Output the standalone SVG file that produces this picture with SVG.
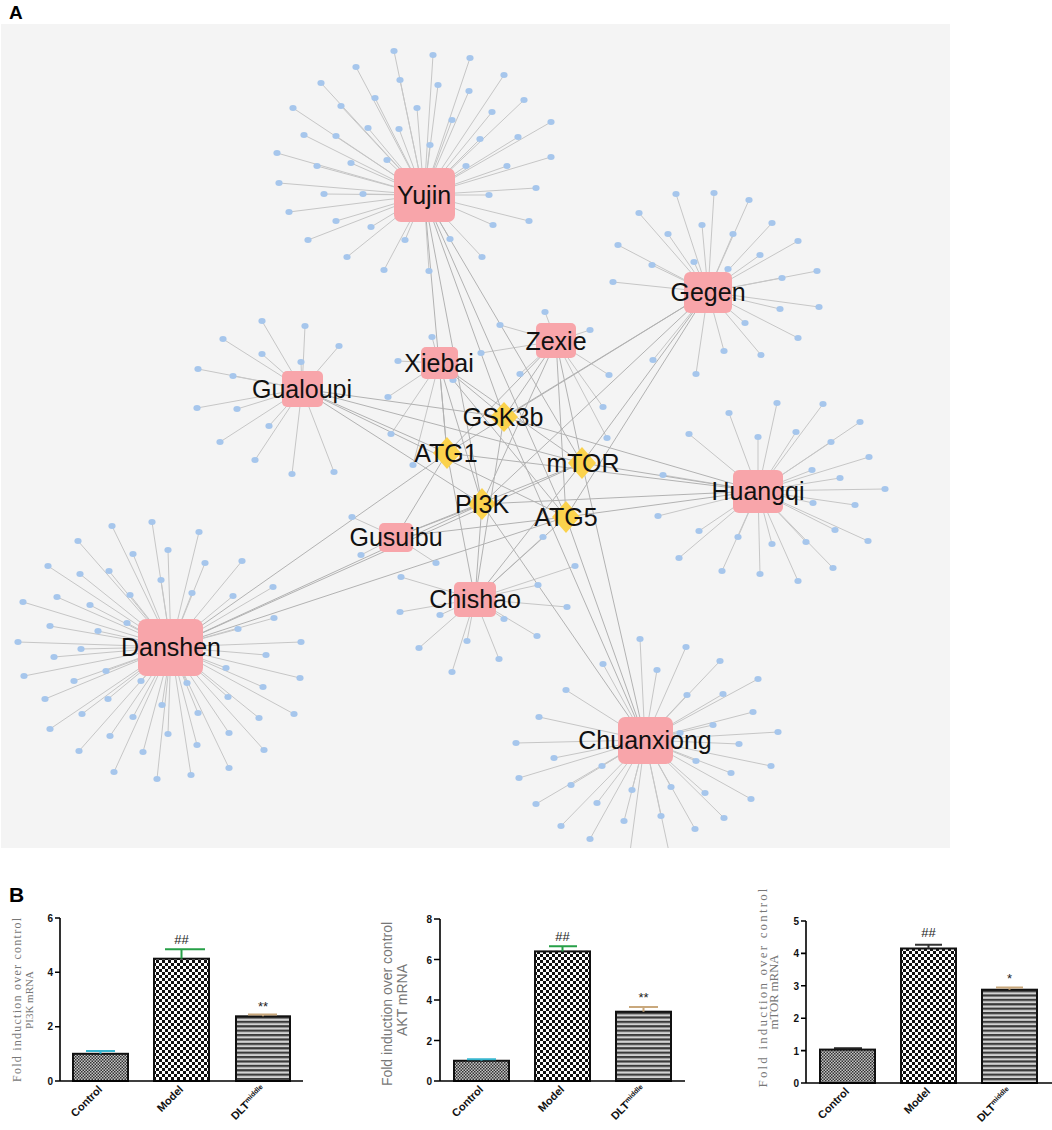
<svg xmlns="http://www.w3.org/2000/svg" width="1052" height="1130" viewBox="0 0 1052 1130">
<defs>
<style>
.bg{fill:#f4f4f4}
.e line{stroke:#c6c6c6;stroke-width:1}
.t line{stroke:#b2b2b2;stroke-width:1}
.c ellipse{fill:#a6c6ec}
.h rect{fill:#f8a5aa}
.g polygon{fill:#fbd24c}
.lbl{font-family:"Liberation Sans",Arial,sans-serif;font-size:25px;fill:#111;text-anchor:middle}
.pl{font-family:"Liberation Sans",Arial,sans-serif;font-weight:bold;fill:#000}
.ax{stroke:#000;stroke-width:1.6;fill:none}
.tk{font-family:"Liberation Sans",Arial,sans-serif;font-weight:bold;font-size:10px;fill:#111;text-anchor:end}
.xl{font-family:"Liberation Sans",Arial,sans-serif;font-weight:bold;font-size:11px;fill:#111;text-anchor:end}
.yls{font-family:"Liberation Serif","Times New Roman",serif;fill:#777;text-anchor:middle}
.yla{font-family:"Liberation Sans",Arial,sans-serif;font-size:14px;fill:#777;text-anchor:middle}
.bar{stroke:#111;stroke-width:2}
.an{font-family:"Liberation Sans",Arial,sans-serif;font-size:13px;fill:#222;text-anchor:middle}
</style>
<pattern id="pc" width="3" height="3" patternUnits="userSpaceOnUse"><rect width="3" height="3" fill="#c4c4c4"/><rect width="1.5" height="1.5" fill="#333"/><rect x="1.5" y="1.5" width="1.5" height="1.5" fill="#333"/></pattern>
<pattern id="pm" width="6" height="6" patternUnits="userSpaceOnUse"><rect width="6" height="6" fill="#fff"/><rect width="3" height="3" fill="#111"/><rect x="3" y="3" width="3" height="3" fill="#111"/></pattern>
<pattern id="pd" width="4" height="4.4" patternUnits="userSpaceOnUse"><rect width="4" height="4.4" fill="#d2d2d2"/><rect width="4" height="2.2" fill="#3a3a3a"/></pattern>
<clipPath id="clipA"><rect x="1" y="24" width="949" height="824"/></clipPath>
</defs>
<rect width="1052" height="1130" fill="#fff"/>
<text class="pl" x="9" y="19" font-size="19">A</text>
<rect class="bg" x="1" y="24" width="949" height="824"/>
<g clip-path="url(#clipA)">
<g id="connectors">
<g class="e">
<line x1="424" y1="195" x2="394" y2="51"/><line x1="424" y1="195" x2="433" y2="55"/><line x1="424" y1="195" x2="470" y2="58"/><line x1="424" y1="195" x2="356" y2="67"/><line x1="424" y1="195" x2="400" y2="80"/><line x1="424" y1="195" x2="438" y2="85"/><line x1="424" y1="195" x2="504" y2="75"/><line x1="424" y1="195" x2="321" y2="83"/><line x1="424" y1="195" x2="469" y2="91"/><line x1="424" y1="195" x2="375" y2="98"/><line x1="424" y1="195" x2="524" y2="100"/><line x1="424" y1="195" x2="293" y2="108"/><line x1="424" y1="195" x2="341" y2="106"/><line x1="424" y1="195" x2="417" y2="108"/><line x1="424" y1="195" x2="492" y2="112"/><line x1="424" y1="195" x2="452" y2="120"/><line x1="424" y1="195" x2="551" y2="122"/><line x1="424" y1="195" x2="304" y2="135"/><line x1="424" y1="195" x2="336" y2="136"/><line x1="424" y1="195" x2="368" y2="128"/><line x1="424" y1="195" x2="399" y2="129"/><line x1="424" y1="195" x2="480" y2="139"/><line x1="424" y1="195" x2="518" y2="137"/><line x1="424" y1="195" x2="430" y2="145"/><line x1="424" y1="195" x2="277" y2="153"/><line x1="424" y1="195" x2="317" y2="166"/><line x1="424" y1="195" x2="351" y2="163"/><line x1="424" y1="195" x2="387" y2="160"/><line x1="424" y1="195" x2="466" y2="166"/><line x1="424" y1="195" x2="507" y2="166"/><line x1="424" y1="195" x2="551" y2="157"/><line x1="424" y1="195" x2="279" y2="183"/><line x1="424" y1="195" x2="324" y2="194"/><line x1="424" y1="195" x2="363" y2="194"/><line x1="424" y1="195" x2="489" y2="195"/><line x1="424" y1="195" x2="536" y2="188"/><line x1="424" y1="195" x2="289" y2="212"/><line x1="424" y1="195" x2="336" y2="221"/><line x1="424" y1="195" x2="371" y2="227"/><line x1="424" y1="195" x2="493" y2="225"/><line x1="424" y1="195" x2="529" y2="221"/><line x1="424" y1="195" x2="308" y2="240"/><line x1="424" y1="195" x2="405" y2="240"/><line x1="424" y1="195" x2="450" y2="239"/><line x1="424" y1="195" x2="347" y2="257"/><line x1="424" y1="195" x2="482" y2="257"/><line x1="424" y1="195" x2="384" y2="270"/><line x1="424" y1="195" x2="429" y2="271"/>
<line x1="708" y1="292" x2="676" y2="194"/><line x1="708" y1="292" x2="714" y2="193"/><line x1="708" y1="292" x2="749" y2="200"/><line x1="708" y1="292" x2="639" y2="213"/><line x1="708" y1="292" x2="772" y2="223"/><line x1="708" y1="292" x2="702" y2="225"/><line x1="708" y1="292" x2="668" y2="234"/><line x1="708" y1="292" x2="733" y2="234"/><line x1="708" y1="292" x2="618" y2="245"/><line x1="708" y1="292" x2="798" y2="241"/><line x1="708" y1="292" x2="760" y2="255"/><line x1="708" y1="292" x2="694" y2="262"/><line x1="708" y1="292" x2="652" y2="265"/><line x1="708" y1="292" x2="728" y2="269"/><line x1="708" y1="292" x2="817" y2="271"/><line x1="708" y1="292" x2="782" y2="278"/><line x1="708" y1="292" x2="613" y2="282"/><line x1="708" y1="292" x2="819" y2="307"/><line x1="708" y1="292" x2="780" y2="309"/><line x1="708" y1="292" x2="745" y2="323"/><line x1="708" y1="292" x2="798" y2="338"/><line x1="708" y1="292" x2="724" y2="351"/><line x1="708" y1="292" x2="761" y2="355"/><line x1="708" y1="292" x2="696" y2="374"/><line x1="708" y1="292" x2="653" y2="360"/>
<line x1="302" y1="389" x2="223" y2="339"/><line x1="302" y1="389" x2="262" y2="354"/><line x1="302" y1="389" x2="301" y2="362"/><line x1="302" y1="389" x2="339" y2="346"/><line x1="302" y1="389" x2="198" y2="369"/><line x1="302" y1="389" x2="233" y2="376"/><line x1="302" y1="389" x2="197" y2="408"/><line x1="302" y1="389" x2="237" y2="409"/><line x1="302" y1="389" x2="269" y2="426"/><line x1="302" y1="389" x2="220" y2="442"/><line x1="302" y1="389" x2="255" y2="460"/><line x1="302" y1="389" x2="292" y2="474"/><line x1="302" y1="389" x2="334" y2="472"/><line x1="302" y1="389" x2="262" y2="321"/><line x1="302" y1="389" x2="305" y2="326"/>
<line x1="439" y1="363" x2="432" y2="337"/><line x1="439" y1="363" x2="398" y2="361"/><line x1="439" y1="363" x2="388" y2="397"/><line x1="439" y1="363" x2="391" y2="434"/><line x1="439" y1="363" x2="413" y2="465"/><line x1="439" y1="363" x2="453" y2="380"/>
<line x1="556" y1="341" x2="545" y2="312"/><line x1="556" y1="341" x2="500" y2="325"/><line x1="556" y1="341" x2="590" y2="330"/><line x1="556" y1="341" x2="481" y2="353"/><line x1="556" y1="341" x2="520" y2="374"/><line x1="556" y1="341" x2="609" y2="375"/><line x1="556" y1="341" x2="603" y2="407"/><line x1="556" y1="341" x2="607" y2="438"/>
<line x1="396" y1="537" x2="352" y2="517"/><line x1="396" y1="537" x2="361" y2="555"/><line x1="396" y1="537" x2="436" y2="563"/>
<line x1="475" y1="599" x2="401" y2="577"/><line x1="475" y1="599" x2="400" y2="612"/><line x1="475" y1="599" x2="440" y2="615"/><line x1="475" y1="599" x2="538" y2="585"/><line x1="475" y1="599" x2="575" y2="566"/><line x1="475" y1="599" x2="567" y2="607"/><line x1="475" y1="599" x2="504" y2="619"/><line x1="475" y1="599" x2="537" y2="636"/><line x1="475" y1="599" x2="467" y2="641"/><line x1="475" y1="599" x2="499" y2="659"/><line x1="475" y1="599" x2="452" y2="672"/><line x1="475" y1="599" x2="419" y2="648"/><line x1="475" y1="599" x2="543" y2="537"/>
<line x1="758" y1="491" x2="729" y2="413"/><line x1="758" y1="491" x2="777" y2="403"/><line x1="758" y1="491" x2="823" y2="404"/><line x1="758" y1="491" x2="689" y2="434"/><line x1="758" y1="491" x2="758" y2="437"/><line x1="758" y1="491" x2="796" y2="432"/><line x1="758" y1="491" x2="860" y2="422"/><line x1="758" y1="491" x2="831" y2="442"/><line x1="758" y1="491" x2="869" y2="457"/><line x1="758" y1="491" x2="812" y2="470"/><line x1="758" y1="491" x2="840" y2="478"/><line x1="758" y1="491" x2="663" y2="475"/><line x1="758" y1="491" x2="885" y2="489"/><line x1="758" y1="491" x2="813" y2="503"/><line x1="758" y1="491" x2="855" y2="505"/><line x1="758" y1="491" x2="658" y2="516"/><line x1="758" y1="491" x2="699" y2="531"/><line x1="758" y1="491" x2="738" y2="537"/><line x1="758" y1="491" x2="835" y2="530"/><line x1="758" y1="491" x2="868" y2="541"/><line x1="758" y1="491" x2="772" y2="544"/><line x1="758" y1="491" x2="806" y2="542"/><line x1="758" y1="491" x2="679" y2="558"/><line x1="758" y1="491" x2="833" y2="568"/><line x1="758" y1="491" x2="722" y2="571"/><line x1="758" y1="491" x2="760" y2="574"/><line x1="758" y1="491" x2="798" y2="581"/>
<line x1="171" y1="647" x2="152" y2="522"/><line x1="171" y1="647" x2="112" y2="526"/><line x1="171" y1="647" x2="199" y2="532"/><line x1="171" y1="647" x2="78" y2="541"/><line x1="171" y1="647" x2="168" y2="550"/><line x1="171" y1="647" x2="133" y2="554"/><line x1="171" y1="647" x2="48" y2="566"/><line x1="171" y1="647" x2="205" y2="563"/><line x1="171" y1="647" x2="242" y2="561"/><line x1="171" y1="647" x2="80" y2="574"/><line x1="171" y1="647" x2="109" y2="571"/><line x1="171" y1="647" x2="161" y2="580"/><line x1="171" y1="647" x2="273" y2="587"/><line x1="171" y1="647" x2="23" y2="602"/><line x1="171" y1="647" x2="57" y2="597"/><line x1="171" y1="647" x2="90" y2="605"/><line x1="171" y1="647" x2="130" y2="595"/><line x1="171" y1="647" x2="192" y2="593"/><line x1="171" y1="647" x2="233" y2="596"/><line x1="171" y1="647" x2="50" y2="626"/><line x1="171" y1="647" x2="127" y2="623"/><line x1="171" y1="647" x2="274" y2="618"/><line x1="171" y1="647" x2="98" y2="631"/><line x1="171" y1="647" x2="238" y2="629"/><line x1="171" y1="647" x2="18" y2="642"/><line x1="171" y1="647" x2="81" y2="649"/><line x1="171" y1="647" x2="54" y2="657"/><line x1="171" y1="647" x2="301" y2="642"/><line x1="171" y1="647" x2="266" y2="655"/><line x1="171" y1="647" x2="24" y2="676"/><line x1="171" y1="647" x2="74" y2="681"/><line x1="171" y1="647" x2="106" y2="671"/><line x1="171" y1="647" x2="226" y2="668"/><line x1="171" y1="647" x2="300" y2="678"/><line x1="171" y1="647" x2="141" y2="681"/><line x1="171" y1="647" x2="187" y2="683"/><line x1="171" y1="647" x2="263" y2="687"/><line x1="171" y1="647" x2="45" y2="699"/><line x1="171" y1="647" x2="108" y2="699"/><line x1="171" y1="647" x2="228" y2="697"/><line x1="171" y1="647" x2="162" y2="705"/><line x1="171" y1="647" x2="198" y2="713"/><line x1="171" y1="647" x2="294" y2="714"/><line x1="171" y1="647" x2="82" y2="714"/><line x1="171" y1="647" x2="133" y2="717"/><line x1="171" y1="647" x2="259" y2="718"/><line x1="171" y1="647" x2="50" y2="729"/><line x1="171" y1="647" x2="110" y2="736"/><line x1="171" y1="647" x2="168" y2="734"/><line x1="171" y1="647" x2="229" y2="733"/><line x1="171" y1="647" x2="197" y2="745"/><line x1="171" y1="647" x2="79" y2="751"/><line x1="171" y1="647" x2="143" y2="752"/><line x1="171" y1="647" x2="264" y2="750"/><line x1="171" y1="647" x2="114" y2="772"/><line x1="171" y1="647" x2="157" y2="779"/><line x1="171" y1="647" x2="191" y2="775"/><line x1="171" y1="647" x2="229" y2="768"/>
<line x1="645" y1="740" x2="640" y2="639"/><line x1="645" y1="740" x2="686" y2="647"/><line x1="645" y1="740" x2="603" y2="664"/><line x1="645" y1="740" x2="720" y2="661"/><line x1="645" y1="740" x2="657" y2="670"/><line x1="645" y1="740" x2="758" y2="679"/><line x1="645" y1="740" x2="566" y2="690"/><line x1="645" y1="740" x2="687" y2="695"/><line x1="645" y1="740" x2="723" y2="694"/><line x1="645" y1="740" x2="753" y2="712"/><line x1="645" y1="740" x2="539" y2="717"/><line x1="645" y1="740" x2="713" y2="725"/><line x1="645" y1="740" x2="680" y2="733"/><line x1="645" y1="740" x2="778" y2="732"/><line x1="645" y1="740" x2="516" y2="743"/><line x1="645" y1="740" x2="739" y2="744"/><line x1="645" y1="740" x2="554" y2="758"/><line x1="645" y1="740" x2="602" y2="766"/><line x1="645" y1="740" x2="648" y2="761"/><line x1="645" y1="740" x2="696" y2="761"/><line x1="645" y1="740" x2="771" y2="766"/><line x1="645" y1="740" x2="731" y2="773"/><line x1="645" y1="740" x2="519" y2="778"/><line x1="645" y1="740" x2="571" y2="785"/><line x1="645" y1="740" x2="632" y2="790"/><line x1="645" y1="740" x2="671" y2="787"/><line x1="645" y1="740" x2="705" y2="793"/><line x1="645" y1="740" x2="751" y2="799"/><line x1="645" y1="740" x2="536" y2="804"/><line x1="645" y1="740" x2="597" y2="803"/><line x1="645" y1="740" x2="661" y2="816"/><line x1="645" y1="740" x2="724" y2="818"/><line x1="645" y1="740" x2="561" y2="826"/><line x1="645" y1="740" x2="624" y2="821"/><line x1="645" y1="740" x2="695" y2="829"/><line x1="645" y1="740" x2="590" y2="839"/><line x1="645" y1="740" x2="630" y2="852"/><line x1="645" y1="740" x2="669" y2="852"/>
</g>
<g class="t">
<line x1="424" y1="195" x2="504" y2="417"/><line x1="424" y1="195" x2="447" y2="453"/><line x1="424" y1="195" x2="582" y2="463"/><line x1="424" y1="195" x2="482" y2="504"/><line x1="424" y1="195" x2="566" y2="517"/>
<line x1="708" y1="292" x2="504" y2="417"/><line x1="708" y1="292" x2="447" y2="453"/><line x1="708" y1="292" x2="582" y2="463"/><line x1="708" y1="292" x2="482" y2="504"/><line x1="708" y1="292" x2="566" y2="517"/>
<line x1="302" y1="389" x2="504" y2="417"/><line x1="302" y1="389" x2="447" y2="453"/><line x1="302" y1="389" x2="582" y2="463"/><line x1="302" y1="389" x2="482" y2="504"/><line x1="302" y1="389" x2="566" y2="517"/>
<line x1="439" y1="363" x2="504" y2="417"/><line x1="439" y1="363" x2="447" y2="453"/><line x1="439" y1="363" x2="582" y2="463"/><line x1="439" y1="363" x2="482" y2="504"/><line x1="439" y1="363" x2="566" y2="517"/>
<line x1="556" y1="341" x2="504" y2="417"/><line x1="556" y1="341" x2="447" y2="453"/><line x1="556" y1="341" x2="582" y2="463"/><line x1="556" y1="341" x2="482" y2="504"/><line x1="556" y1="341" x2="566" y2="517"/>
<line x1="396" y1="537" x2="447" y2="453"/><line x1="396" y1="537" x2="582" y2="463"/><line x1="396" y1="537" x2="482" y2="504"/><line x1="396" y1="537" x2="566" y2="517"/>
<line x1="475" y1="599" x2="504" y2="417"/><line x1="475" y1="599" x2="447" y2="453"/><line x1="475" y1="599" x2="582" y2="463"/><line x1="475" y1="599" x2="482" y2="504"/><line x1="475" y1="599" x2="566" y2="517"/>
<line x1="758" y1="491" x2="504" y2="417"/><line x1="758" y1="491" x2="447" y2="453"/><line x1="758" y1="491" x2="582" y2="463"/><line x1="758" y1="491" x2="482" y2="504"/><line x1="758" y1="491" x2="566" y2="517"/>
<line x1="171" y1="647" x2="447" y2="453"/><line x1="171" y1="647" x2="582" y2="463"/><line x1="171" y1="647" x2="482" y2="504"/><line x1="171" y1="647" x2="566" y2="517"/>
<line x1="645" y1="740" x2="504" y2="417"/><line x1="645" y1="740" x2="582" y2="463"/><line x1="645" y1="740" x2="482" y2="504" stroke="#999"/><line x1="645" y1="740" x2="566" y2="517"/>
</g>
</g>
<g id="compounds" class="c">
<g id="cmp-yujin"><ellipse cx="394" cy="51" rx="3.6" ry="3"/><ellipse cx="433" cy="55" rx="3.6" ry="3"/><ellipse cx="470" cy="58" rx="3.6" ry="3"/><ellipse cx="356" cy="67" rx="3.6" ry="3"/><ellipse cx="400" cy="80" rx="3.6" ry="3"/><ellipse cx="438" cy="85" rx="3.6" ry="3"/><ellipse cx="504" cy="75" rx="3.6" ry="3"/><ellipse cx="321" cy="83" rx="3.6" ry="3"/><ellipse cx="469" cy="91" rx="3.6" ry="3"/><ellipse cx="375" cy="98" rx="3.6" ry="3"/><ellipse cx="524" cy="100" rx="3.6" ry="3"/><ellipse cx="293" cy="108" rx="3.6" ry="3"/><ellipse cx="341" cy="106" rx="3.6" ry="3"/><ellipse cx="417" cy="108" rx="3.6" ry="3"/><ellipse cx="492" cy="112" rx="3.6" ry="3"/><ellipse cx="452" cy="120" rx="3.6" ry="3"/><ellipse cx="551" cy="122" rx="3.6" ry="3"/><ellipse cx="304" cy="135" rx="3.6" ry="3"/><ellipse cx="336" cy="136" rx="3.6" ry="3"/><ellipse cx="368" cy="128" rx="3.6" ry="3"/><ellipse cx="399" cy="129" rx="3.6" ry="3"/><ellipse cx="480" cy="139" rx="3.6" ry="3"/><ellipse cx="518" cy="137" rx="3.6" ry="3"/><ellipse cx="430" cy="145" rx="3.6" ry="3"/><ellipse cx="277" cy="153" rx="3.6" ry="3"/><ellipse cx="317" cy="166" rx="3.6" ry="3"/><ellipse cx="351" cy="163" rx="3.6" ry="3"/><ellipse cx="387" cy="160" rx="3.6" ry="3"/><ellipse cx="466" cy="166" rx="3.6" ry="3"/><ellipse cx="507" cy="166" rx="3.6" ry="3"/><ellipse cx="551" cy="157" rx="3.6" ry="3"/><ellipse cx="279" cy="183" rx="3.6" ry="3"/><ellipse cx="324" cy="194" rx="3.6" ry="3"/><ellipse cx="363" cy="194" rx="3.6" ry="3"/><ellipse cx="489" cy="195" rx="3.6" ry="3"/><ellipse cx="536" cy="188" rx="3.6" ry="3"/><ellipse cx="289" cy="212" rx="3.6" ry="3"/><ellipse cx="336" cy="221" rx="3.6" ry="3"/><ellipse cx="371" cy="227" rx="3.6" ry="3"/><ellipse cx="493" cy="225" rx="3.6" ry="3"/><ellipse cx="529" cy="221" rx="3.6" ry="3"/><ellipse cx="308" cy="240" rx="3.6" ry="3"/><ellipse cx="405" cy="240" rx="3.6" ry="3"/><ellipse cx="450" cy="239" rx="3.6" ry="3"/><ellipse cx="347" cy="257" rx="3.6" ry="3"/><ellipse cx="482" cy="257" rx="3.6" ry="3"/><ellipse cx="384" cy="270" rx="3.6" ry="3"/><ellipse cx="429" cy="271" rx="3.6" ry="3"/></g>
<g id="cmp-gegen"><ellipse cx="676" cy="194" rx="3.6" ry="3"/><ellipse cx="714" cy="193" rx="3.6" ry="3"/><ellipse cx="749" cy="200" rx="3.6" ry="3"/><ellipse cx="639" cy="213" rx="3.6" ry="3"/><ellipse cx="772" cy="223" rx="3.6" ry="3"/><ellipse cx="702" cy="225" rx="3.6" ry="3"/><ellipse cx="668" cy="234" rx="3.6" ry="3"/><ellipse cx="733" cy="234" rx="3.6" ry="3"/><ellipse cx="618" cy="245" rx="3.6" ry="3"/><ellipse cx="798" cy="241" rx="3.6" ry="3"/><ellipse cx="760" cy="255" rx="3.6" ry="3"/><ellipse cx="694" cy="262" rx="3.6" ry="3"/><ellipse cx="652" cy="265" rx="3.6" ry="3"/><ellipse cx="728" cy="269" rx="3.6" ry="3"/><ellipse cx="817" cy="271" rx="3.6" ry="3"/><ellipse cx="782" cy="278" rx="3.6" ry="3"/><ellipse cx="613" cy="282" rx="3.6" ry="3"/><ellipse cx="819" cy="307" rx="3.6" ry="3"/><ellipse cx="780" cy="309" rx="3.6" ry="3"/><ellipse cx="745" cy="323" rx="3.6" ry="3"/><ellipse cx="798" cy="338" rx="3.6" ry="3"/><ellipse cx="724" cy="351" rx="3.6" ry="3"/><ellipse cx="761" cy="355" rx="3.6" ry="3"/><ellipse cx="696" cy="374" rx="3.6" ry="3"/><ellipse cx="653" cy="360" rx="3.6" ry="3"/></g>
<g id="cmp-gualoupi"><ellipse cx="223" cy="339" rx="3.6" ry="3"/><ellipse cx="262" cy="354" rx="3.6" ry="3"/><ellipse cx="301" cy="362" rx="3.6" ry="3"/><ellipse cx="339" cy="346" rx="3.6" ry="3"/><ellipse cx="198" cy="369" rx="3.6" ry="3"/><ellipse cx="233" cy="376" rx="3.6" ry="3"/><ellipse cx="197" cy="408" rx="3.6" ry="3"/><ellipse cx="237" cy="409" rx="3.6" ry="3"/><ellipse cx="269" cy="426" rx="3.6" ry="3"/><ellipse cx="220" cy="442" rx="3.6" ry="3"/><ellipse cx="255" cy="460" rx="3.6" ry="3"/><ellipse cx="292" cy="474" rx="3.6" ry="3"/><ellipse cx="334" cy="472" rx="3.6" ry="3"/><ellipse cx="262" cy="321" rx="3.6" ry="3"/><ellipse cx="305" cy="326" rx="3.6" ry="3"/></g>
<g id="cmp-xiebai"><ellipse cx="432" cy="337" rx="3.6" ry="3"/><ellipse cx="398" cy="361" rx="3.6" ry="3"/><ellipse cx="388" cy="397" rx="3.6" ry="3"/><ellipse cx="391" cy="434" rx="3.6" ry="3"/><ellipse cx="413" cy="465" rx="3.6" ry="3"/><ellipse cx="453" cy="380" rx="3.6" ry="3"/></g>
<g id="cmp-zexie"><ellipse cx="545" cy="312" rx="3.6" ry="3"/><ellipse cx="500" cy="325" rx="3.6" ry="3"/><ellipse cx="590" cy="330" rx="3.6" ry="3"/><ellipse cx="481" cy="353" rx="3.6" ry="3"/><ellipse cx="520" cy="374" rx="3.6" ry="3"/><ellipse cx="609" cy="375" rx="3.6" ry="3"/><ellipse cx="603" cy="407" rx="3.6" ry="3"/><ellipse cx="607" cy="438" rx="3.6" ry="3"/></g>
<g id="cmp-gusuibu"><ellipse cx="352" cy="517" rx="3.6" ry="3"/><ellipse cx="361" cy="555" rx="3.6" ry="3"/><ellipse cx="436" cy="563" rx="3.6" ry="3"/></g>
<g id="cmp-chishao"><ellipse cx="401" cy="577" rx="3.6" ry="3"/><ellipse cx="400" cy="612" rx="3.6" ry="3"/><ellipse cx="440" cy="615" rx="3.6" ry="3"/><ellipse cx="538" cy="585" rx="3.6" ry="3"/><ellipse cx="575" cy="566" rx="3.6" ry="3"/><ellipse cx="567" cy="607" rx="3.6" ry="3"/><ellipse cx="504" cy="619" rx="3.6" ry="3"/><ellipse cx="537" cy="636" rx="3.6" ry="3"/><ellipse cx="467" cy="641" rx="3.6" ry="3"/><ellipse cx="499" cy="659" rx="3.6" ry="3"/><ellipse cx="452" cy="672" rx="3.6" ry="3"/><ellipse cx="419" cy="648" rx="3.6" ry="3"/><ellipse cx="543" cy="537" rx="3.6" ry="3"/></g>
<g id="cmp-huangqi"><ellipse cx="729" cy="413" rx="3.6" ry="3"/><ellipse cx="777" cy="403" rx="3.6" ry="3"/><ellipse cx="823" cy="404" rx="3.6" ry="3"/><ellipse cx="689" cy="434" rx="3.6" ry="3"/><ellipse cx="758" cy="437" rx="3.6" ry="3"/><ellipse cx="796" cy="432" rx="3.6" ry="3"/><ellipse cx="860" cy="422" rx="3.6" ry="3"/><ellipse cx="831" cy="442" rx="3.6" ry="3"/><ellipse cx="869" cy="457" rx="3.6" ry="3"/><ellipse cx="812" cy="470" rx="3.6" ry="3"/><ellipse cx="840" cy="478" rx="3.6" ry="3"/><ellipse cx="663" cy="475" rx="3.6" ry="3"/><ellipse cx="885" cy="489" rx="3.6" ry="3"/><ellipse cx="813" cy="503" rx="3.6" ry="3"/><ellipse cx="855" cy="505" rx="3.6" ry="3"/><ellipse cx="658" cy="516" rx="3.6" ry="3"/><ellipse cx="699" cy="531" rx="3.6" ry="3"/><ellipse cx="738" cy="537" rx="3.6" ry="3"/><ellipse cx="835" cy="530" rx="3.6" ry="3"/><ellipse cx="868" cy="541" rx="3.6" ry="3"/><ellipse cx="772" cy="544" rx="3.6" ry="3"/><ellipse cx="806" cy="542" rx="3.6" ry="3"/><ellipse cx="679" cy="558" rx="3.6" ry="3"/><ellipse cx="833" cy="568" rx="3.6" ry="3"/><ellipse cx="722" cy="571" rx="3.6" ry="3"/><ellipse cx="760" cy="574" rx="3.6" ry="3"/><ellipse cx="798" cy="581" rx="3.6" ry="3"/></g>
<g id="cmp-danshen"><ellipse cx="152" cy="522" rx="3.6" ry="3"/><ellipse cx="112" cy="526" rx="3.6" ry="3"/><ellipse cx="199" cy="532" rx="3.6" ry="3"/><ellipse cx="78" cy="541" rx="3.6" ry="3"/><ellipse cx="168" cy="550" rx="3.6" ry="3"/><ellipse cx="133" cy="554" rx="3.6" ry="3"/><ellipse cx="48" cy="566" rx="3.6" ry="3"/><ellipse cx="205" cy="563" rx="3.6" ry="3"/><ellipse cx="242" cy="561" rx="3.6" ry="3"/><ellipse cx="80" cy="574" rx="3.6" ry="3"/><ellipse cx="109" cy="571" rx="3.6" ry="3"/><ellipse cx="161" cy="580" rx="3.6" ry="3"/><ellipse cx="273" cy="587" rx="3.6" ry="3"/><ellipse cx="23" cy="602" rx="3.6" ry="3"/><ellipse cx="57" cy="597" rx="3.6" ry="3"/><ellipse cx="90" cy="605" rx="3.6" ry="3"/><ellipse cx="130" cy="595" rx="3.6" ry="3"/><ellipse cx="192" cy="593" rx="3.6" ry="3"/><ellipse cx="233" cy="596" rx="3.6" ry="3"/><ellipse cx="50" cy="626" rx="3.6" ry="3"/><ellipse cx="127" cy="623" rx="3.6" ry="3"/><ellipse cx="274" cy="618" rx="3.6" ry="3"/><ellipse cx="98" cy="631" rx="3.6" ry="3"/><ellipse cx="238" cy="629" rx="3.6" ry="3"/><ellipse cx="18" cy="642" rx="3.6" ry="3"/><ellipse cx="81" cy="649" rx="3.6" ry="3"/><ellipse cx="54" cy="657" rx="3.6" ry="3"/><ellipse cx="301" cy="642" rx="3.6" ry="3"/><ellipse cx="266" cy="655" rx="3.6" ry="3"/><ellipse cx="24" cy="676" rx="3.6" ry="3"/><ellipse cx="74" cy="681" rx="3.6" ry="3"/><ellipse cx="106" cy="671" rx="3.6" ry="3"/><ellipse cx="226" cy="668" rx="3.6" ry="3"/><ellipse cx="300" cy="678" rx="3.6" ry="3"/><ellipse cx="141" cy="681" rx="3.6" ry="3"/><ellipse cx="187" cy="683" rx="3.6" ry="3"/><ellipse cx="263" cy="687" rx="3.6" ry="3"/><ellipse cx="45" cy="699" rx="3.6" ry="3"/><ellipse cx="108" cy="699" rx="3.6" ry="3"/><ellipse cx="228" cy="697" rx="3.6" ry="3"/><ellipse cx="162" cy="705" rx="3.6" ry="3"/><ellipse cx="198" cy="713" rx="3.6" ry="3"/><ellipse cx="294" cy="714" rx="3.6" ry="3"/><ellipse cx="82" cy="714" rx="3.6" ry="3"/><ellipse cx="133" cy="717" rx="3.6" ry="3"/><ellipse cx="259" cy="718" rx="3.6" ry="3"/><ellipse cx="50" cy="729" rx="3.6" ry="3"/><ellipse cx="110" cy="736" rx="3.6" ry="3"/><ellipse cx="168" cy="734" rx="3.6" ry="3"/><ellipse cx="229" cy="733" rx="3.6" ry="3"/><ellipse cx="197" cy="745" rx="3.6" ry="3"/><ellipse cx="79" cy="751" rx="3.6" ry="3"/><ellipse cx="143" cy="752" rx="3.6" ry="3"/><ellipse cx="264" cy="750" rx="3.6" ry="3"/><ellipse cx="114" cy="772" rx="3.6" ry="3"/><ellipse cx="157" cy="779" rx="3.6" ry="3"/><ellipse cx="191" cy="775" rx="3.6" ry="3"/><ellipse cx="229" cy="768" rx="3.6" ry="3"/></g>
<g id="cmp-chuanxiong"><ellipse cx="640" cy="639" rx="3.6" ry="3"/><ellipse cx="686" cy="647" rx="3.6" ry="3"/><ellipse cx="603" cy="664" rx="3.6" ry="3"/><ellipse cx="720" cy="661" rx="3.6" ry="3"/><ellipse cx="657" cy="670" rx="3.6" ry="3"/><ellipse cx="758" cy="679" rx="3.6" ry="3"/><ellipse cx="566" cy="690" rx="3.6" ry="3"/><ellipse cx="687" cy="695" rx="3.6" ry="3"/><ellipse cx="723" cy="694" rx="3.6" ry="3"/><ellipse cx="753" cy="712" rx="3.6" ry="3"/><ellipse cx="539" cy="717" rx="3.6" ry="3"/><ellipse cx="713" cy="725" rx="3.6" ry="3"/><ellipse cx="680" cy="733" rx="3.6" ry="3"/><ellipse cx="778" cy="732" rx="3.6" ry="3"/><ellipse cx="516" cy="743" rx="3.6" ry="3"/><ellipse cx="739" cy="744" rx="3.6" ry="3"/><ellipse cx="554" cy="758" rx="3.6" ry="3"/><ellipse cx="602" cy="766" rx="3.6" ry="3"/><ellipse cx="648" cy="761" rx="3.6" ry="3"/><ellipse cx="696" cy="761" rx="3.6" ry="3"/><ellipse cx="771" cy="766" rx="3.6" ry="3"/><ellipse cx="731" cy="773" rx="3.6" ry="3"/><ellipse cx="519" cy="778" rx="3.6" ry="3"/><ellipse cx="571" cy="785" rx="3.6" ry="3"/><ellipse cx="632" cy="790" rx="3.6" ry="3"/><ellipse cx="671" cy="787" rx="3.6" ry="3"/><ellipse cx="705" cy="793" rx="3.6" ry="3"/><ellipse cx="751" cy="799" rx="3.6" ry="3"/><ellipse cx="536" cy="804" rx="3.6" ry="3"/><ellipse cx="597" cy="803" rx="3.6" ry="3"/><ellipse cx="661" cy="816" rx="3.6" ry="3"/><ellipse cx="724" cy="818" rx="3.6" ry="3"/><ellipse cx="561" cy="826" rx="3.6" ry="3"/><ellipse cx="624" cy="821" rx="3.6" ry="3"/><ellipse cx="695" cy="829" rx="3.6" ry="3"/><ellipse cx="590" cy="839" rx="3.6" ry="3"/></g>
</g>
<g id="herb-yujin" class="h"><rect x="394" y="168" width="61" height="54" rx="7"/><text class="lbl" x="424" y="204">Yujin</text></g>
<g id="herb-gegen" class="h"><rect x="684" y="272" width="48" height="41" rx="6"/><text class="lbl" x="708" y="301">Gegen</text></g>
<g id="herb-gualoupi" class="h"><rect x="282" y="371" width="41" height="36" rx="5"/><text class="lbl" x="302" y="398">Gualoupi</text></g>
<g id="herb-xiebai" class="h"><rect x="421" y="347" width="37" height="32" rx="5"/><text class="lbl" x="439" y="372">Xiebai</text></g>
<g id="herb-zexie" class="h"><rect x="536" y="323" width="40" height="35" rx="5"/><text class="lbl" x="556" y="350">Zexie</text></g>
<g id="herb-gusuibu" class="h"><rect x="379" y="523" width="34" height="29" rx="5"/><text class="lbl" x="396" y="546">Gusuibu</text></g>
<g id="herb-chishao" class="h"><rect x="454" y="582" width="42" height="35" rx="5"/><text class="lbl" x="475" y="608">Chishao</text></g>
<g id="herb-huangqi" class="h"><rect x="733" y="470" width="50" height="43" rx="6"/><text class="lbl" x="758" y="500">Huangqi</text></g>
<g id="herb-danshen" class="h"><rect x="138" y="619" width="65" height="57" rx="8"/><text class="lbl" x="171" y="656">Danshen</text></g>
<g id="herb-chuanxiong" class="h"><rect x="618" y="717" width="55" height="47" rx="7"/><text class="lbl" x="645" y="749">Chuanxiong</text></g>
<g id="target-gsk3b" class="g"><polygon points="504,402 518,417 504,432 490,417"/><text class="lbl" x="503" y="426">GSK3b</text></g>
<g id="target-atg1" class="g"><polygon points="447,437 461,453 447,469 433,453"/><text class="lbl" x="446" y="462">ATG1</text></g>
<g id="target-mtor" class="g"><polygon points="582,447 596,463 582,479 568,463"/><text class="lbl" x="583" y="472">mTOR</text></g>
<g id="target-pi3k" class="g"><polygon points="482,488 496,504 482,520 468,504"/><text class="lbl" x="482" y="513">PI3K</text></g>
<g id="target-atg5" class="g"><polygon points="566,501 580,517 566,533 552,517"/><text class="lbl" x="566" y="526">ATG5</text></g>
</g>
<text class="pl" x="9" y="902" font-size="21">B</text>
<g id="chart-pi3k">
<text class="yls" transform="translate(21,1000) rotate(-90)" font-size="12" textLength="164" lengthAdjust="spacing">Fold induction over control</text>
<text class="yls" transform="translate(33,1000) rotate(-90)" font-size="11">PI3K mRNA</text>
<rect class="bar" x="73" y="1053.8" width="55" height="27.2" fill="url(#pc)"/>
<rect class="bar" x="154" y="958.7" width="55" height="122.3" fill="url(#pm)"/>
<rect class="bar" x="236" y="1016.3" width="54" height="64.7" fill="url(#pd)"/>
<path d="M100.5 1053.8V1051M86 1051H115" stroke="#37b6cf" stroke-width="2"/>
<path d="M181.5 958.7V949.2M165 949.2H205" stroke="#27a048" stroke-width="2"/>
<path d="M263 1016.3V1014.4M248 1014.4H277" stroke="#c9a87c" stroke-width="2"/>
<path class="ax" d="M60 918V1081H303M55 918H60M55 972.3H60M55 1026.7H60M55 1081H60"/>
<text class="tk" x="53" y="922">6</text><text class="tk" x="53" y="976">4</text><text class="tk" x="53" y="1030">2</text><text class="tk" x="53" y="1085">0</text>
<text class="an" x="181.5" y="944">##</text><text class="an" x="263" y="1011">**</text>
<text class="xl" transform="translate(103,1090) rotate(-45)">Control</text>
<text class="xl" transform="translate(184,1090) rotate(-45)">Model</text>
<text class="xl" transform="translate(266,1090) rotate(-45)">DLT<tspan font-size="7" dy="-4">middle</tspan></text>
</g>
<g id="chart-akt">
<text class="yla" transform="translate(392,1004) rotate(-90)">Fold induction over control</text>
<text class="yla" transform="translate(407,1000) rotate(-90)">AKT mRNA</text>
<rect class="bar" x="454" y="1060.75" width="55" height="20.25" fill="url(#pc)"/>
<rect class="bar" x="535" y="951.4" width="55" height="129.6" fill="url(#pm)"/>
<rect class="bar" x="616" y="1011.7" width="55" height="69.3" fill="url(#pd)"/>
<path d="M481.5 1060.75V1059.3M467 1059.3H496" stroke="#37b6cf" stroke-width="2"/>
<path d="M562.5 951.4V946.3M549 946.3H577" stroke="#27a048" stroke-width="2"/>
<path d="M643.5 1011.7V1007.1M629 1007.1H658" stroke="#c9a87c" stroke-width="2"/>
<path class="ax" d="M440 919V1081H685M434 919H440M434 959.5H440M434 1000H440M434 1040.5H440M434 1081H440"/>
<text class="tk" x="432" y="923">8</text><text class="tk" x="432" y="963.5">6</text><text class="tk" x="432" y="1004">4</text><text class="tk" x="432" y="1044.5">2</text><text class="tk" x="432" y="1085">0</text>
<text class="an" x="562.5" y="941" fill="#555">##</text><text class="an" x="643.5" y="1002" fill="#555">**</text>
<text class="xl" transform="translate(484,1090) rotate(-45)">Control</text>
<text class="xl" transform="translate(565,1090) rotate(-45)">Model</text>
<text class="xl" transform="translate(646,1090) rotate(-45)">DLT<tspan font-size="7" dy="-4">middle</tspan></text>
</g>
<g id="chart-mtor">
<text class="yls" transform="translate(767,988) rotate(-90)" font-size="13" textLength="199" lengthAdjust="spacing">Fold induction over control</text>
<text class="yls" transform="translate(778,992) rotate(-90)" font-size="13" textLength="75" lengthAdjust="spacing">mTOR mRNA</text>
<rect class="bar" x="820" y="1049.6" width="55" height="33.4" fill="url(#pc)"/>
<rect class="bar" x="901" y="948.5" width="55" height="134.5" fill="url(#pm)"/>
<rect class="bar" x="982" y="989.7" width="55" height="93.3" fill="url(#pd)"/>
<path d="M847.5 1049.6V1048.3M834 1048.3H862" stroke="#222" stroke-width="2"/>
<path d="M928.5 948.5V944.7M915 944.7H942" stroke="#333" stroke-width="2"/>
<path d="M1009.5 989.7V987.4M996 987.4H1023" stroke="#c9a87c" stroke-width="2"/>
<path class="ax" d="M806 921V1083H1052M801 921H806M801 953.4H806M801 985.8H806M801 1018.2H806M801 1050.6H806M801 1083H806"/>
<text class="tk" x="799" y="925">5</text><text class="tk" x="799" y="957.4">4</text><text class="tk" x="799" y="989.8">3</text><text class="tk" x="799" y="1022.2">2</text><text class="tk" x="799" y="1054.6">1</text><text class="tk" x="799" y="1087">0</text>
<text class="an" x="928.5" y="937" fill="#555">##</text><text class="an" x="1009.5" y="983" fill="#333">*</text>
<text class="xl" transform="translate(850,1092) rotate(-45)">Control</text>
<text class="xl" transform="translate(931,1092) rotate(-45)">Model</text>
<text class="xl" transform="translate(1012,1092) rotate(-45)">DLT<tspan font-size="7" dy="-4">middle</tspan></text>
</g>
</svg>
